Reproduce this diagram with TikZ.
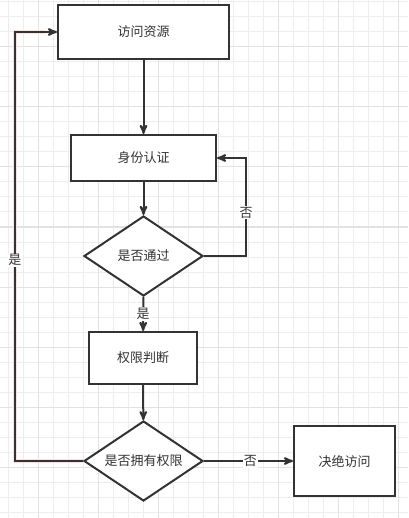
\documentclass[tikz,border=0pt]{standalone}
\usepackage{fontspec}
\newfontfamily\cjk{Noto Sans CJK SC}
\usetikzlibrary{positioning}
\usetikzlibrary{arrows}
\usetikzlibrary{shapes.geometric}
\definecolor{ink}{HTML}{333333}
\definecolor{gridminor}{HTML}{EDEDED}
\definecolor{gridmajor}{HTML}{E2E2E2}
\tikzset{x=1pt, y=-1pt,
    every node/.style={
        font=\cjk\fontsize{13}{15}\selectfont,
        text=ink},
    box/.style={
        draw=ink,
        line width=2pt,
        fill=white,
        inner sep=0pt},
    check/.style={
        diamond,
        aspect=1.6,
        draw=ink,
        line width=2pt,
        fill=white,
        inner sep=0pt},
    lab/.style={
        fill=white,
        inner sep=1pt},
    flow/.style={
        draw=ink,
        line width=2pt,
        ->,>=stealth'},
    every edge/.style={
        flow}}

\begin{document}
\begin{tikzpicture}
        \useasboundingbox (0,0) rectangle (408,518);
        \fill[white] (0,0) rectangle (408,518);
        % grid
        \foreach \x in {8,23,...,408}
            \draw[gridminor, line width=1pt] (\x,0) -- (\x,518);
        \foreach \y in {2,17,...,518}
            \draw[gridminor, line width=1pt] (0,\y) -- (408,\y);
        \foreach \x in {38,98,...,408}
            \draw[gridmajor, line width=1pt] (\x,0) -- (\x,518);
        \foreach \y in {47,107,...,518}
            \draw[gridmajor, line width=1pt] (0,\y) -- (408,\y);

        \node[box, minimum width=171pt, minimum height=54pt] (access) at (143.5,32) {访问资源};
        \node[box, minimum width=145pt, minimum height=46pt] (auth) at (143.5,158) {身份认证};
        \node[check, minimum width=119pt, minimum height=80pt] (pass) at (143.5,256) {是否通过};
        \node[box, minimum width=108pt, minimum height=52pt] (perm) at (143,358) {权限判断};
        \node[check, minimum width=119pt, minimum height=80pt] (has) at (143.5,461) {是否拥有权限};
        \node[box, minimum width=101pt, minimum height=70pt] (deny) at (344.5,461) {决绝访问};

        \coordinate (retry) at (246,158);
        \coordinate (back) at (15,32);

        \draw (access) edge[] (auth);
        \draw (auth) edge[] (pass);
        \draw (pass) edge[] node[lab, pos=0.5] {是} (perm);
        \draw (perm) edge[] (has);
        \draw (has) edge[] node[lab, pos=0.52] {否} (deny);

        \draw[flow] (pass.east) -| node[lab, pos=0.72] {否} (retry) -- (auth.east);

        \draw[red!12, line width=4pt] (has.west) -| (back) -- ++(30,0);
        \draw[flow] (has.west) -| node[lab, pos=0.734] {是} (back) -- (access.west);
    \end{tikzpicture}
\end{document}
